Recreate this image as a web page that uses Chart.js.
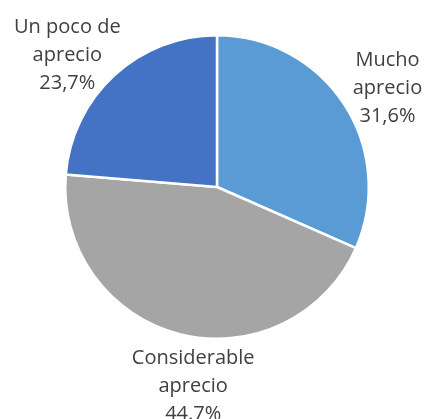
<!DOCTYPE html>
<html>
<head>
<meta charset="utf-8">
<script src="https://cdn.jsdelivr.net/npm/chart.js@4.4.0/dist/chart.umd.min.js"></script>
<style>
  html, body { margin: 0; padding: 0; background: #fff; }
  #wrap { width: 428px; height: 419px; }
</style>
</head>
<body>
<div id="wrap"><canvas id="myPie" width="428" height="419"></canvas></div>
<script>
var Labels = [["Mucho", "aprecio"], ["Considerable", "aprecio"], ["Un poco de", "aprecio"]];
var Values = [31.6, 44.7, 23.7];
var ValueText = ["31,6%", "44.7%", "23,7%"];
var Colors = ['#5B9BD5', '#A5A5A5', '#4472C4'];

// small nudges so the text sits where the original put it
var nudge = [[4, 10], [25, 7], [-15, 14]];

const outsideLabels = {
    id: 'outsideLabels',
    afterDatasetsDraw(chart) {
        const ctx = chart.ctx;
        const arcs = chart.getDatasetMeta(0).data;
        ctx.save();
        ctx.font = '20px "Open Sans", sans-serif';
        ctx.fillStyle = '#404040';
        ctx.textAlign = 'center';
        ctx.textBaseline = 'middle';
        arcs.forEach(function (arc, i) {
            var mid = (arc.startAngle + arc.endAngle) / 2;
            var d = arc.outerRadius + 47;
            var x = arc.x + Math.cos(mid) * d + nudge[i][0];
            var y = arc.y + Math.sin(mid) * d + nudge[i][1];
            var lines = Labels[i].concat([ValueText[i]]);
            for (var k = 0; k < lines.length; k++) {
                ctx.fillText(lines[k], x, y + (k - 1) * 28);
            }
        });
        ctx.restore();
    }
};

const ctx = document.getElementById('myPie');
const myPie = new Chart(ctx, {
    type: 'pie',
    data: {
        labels: Labels,
        datasets: [{
            data: Values,
            backgroundColor: Colors,
            borderColor: '#ffffff',
            borderWidth: 2.5
        }]
    },
    options: {
        responsive: false,
        animation: false,
        layout: { padding: { left: 64, right: 58, top: 34, bottom: 79 } },
        plugins: {
            legend: { display: false },
            tooltip: { enabled: false }
        }
    },
    plugins: [outsideLabels]
});
</script>
</body>
</html>
